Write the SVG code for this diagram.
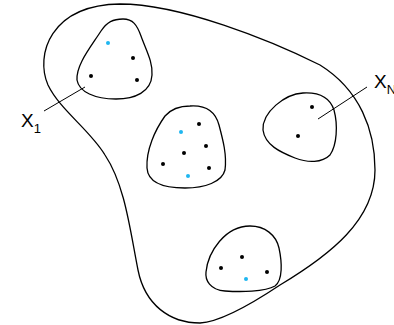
<svg xmlns="http://www.w3.org/2000/svg" width="394" height="325" viewBox="0 0 394 325">
<style>
.c{fill:none;stroke:#000;stroke-width:1.3}
.d{fill:#000}
.b{fill:#1EB6F0}
.l{stroke:#000;stroke-width:1}
.t{font-family:"Liberation Sans",Arial,sans-serif;fill:#000}
</style>
<rect width="394" height="325" fill="#fff"/>
<g id="outer"><path class="c" d="M 120,4 C 180,4 270,40 320,65 C 360,90 375,130 375,170 C 375,220 330,255 280,285 C 250,305 220,322 200,323 C 170,323 145,305 138,270 C 130,230 125,185 105,155 C 90,130 60,110 48,85 C 35,55 50,5 120,4 Z"/></g>
<g id="cluster1">
<path class="c" d="M 123,19 C 133,19 137,25 141,36 C 146,50 153,62 152,75 C 151,92 135,99 116,99 C 95,99 79,92 77,80 C 76,65 90,48 101,31 C 107,22 113,19 123,19 Z"/>
<circle class="b" cx="108" cy="43" r="2"/>
<circle class="d" cx="133" cy="58" r="2"/>
<circle class="d" cx="91" cy="76" r="2"/>
<circle class="d" cx="137" cy="80" r="2"/>
</g>
<g id="cluster2">
<path class="c" d="M 190,106 C 205,105 215,110 219,125 C 223,140 227,155 225,170 C 222,182 205,188 185,188 C 165,188 148,183 147,168 C 146,150 155,130 165,116 C 172,108 180,106 190,106 Z"/>
<circle class="b" cx="181" cy="132" r="2"/>
<circle class="d" cx="199" cy="124" r="2"/>
<circle class="d" cx="206" cy="146" r="2"/>
<circle class="d" cx="184" cy="153" r="2"/>
<circle class="d" cx="163" cy="164" r="2"/>
<circle class="d" cx="209" cy="168" r="2"/>
<circle class="b" cx="188" cy="176" r="2"/>
</g>
<g id="cluster3">
<path class="c" d="M 303,93 C 320,92 330,98 334,110 C 338,125 337,145 330,155 C 322,163 308,163 295,158 C 280,152 265,145 263,130 C 262,112 285,94 303,93 Z"/>
<circle class="d" cx="312" cy="107" r="2"/>
<circle class="d" cx="298" cy="136" r="2"/>
</g>
<g id="cluster4">
<path class="c" d="M 250,226 C 265,226 276,235 279,248 C 282,262 283,280 275,286 C 265,292 240,292 225,291 C 210,290 205,280 206,272 C 208,252 225,226 250,226 Z"/>
<circle class="d" cx="242" cy="257" r="2"/>
<circle class="d" cx="221" cy="268" r="2"/>
<circle class="d" cx="267" cy="272" r="2"/>
<circle class="b" cx="246" cy="279" r="2"/>
</g>
<g id="connectors">
<line class="l" x1="44" y1="111" x2="85" y2="87"/>
<line class="l" x1="318" y1="119" x2="367" y2="87"/>
</g>
<g id="label-x1"><text class="t" x="21" y="127" font-size="19">X<tspan font-size="13" dy="6">1</tspan></text></g>
<g id="label-xn"><text class="t" x="374" y="88" font-size="19">X<tspan font-size="13" dy="6">N</tspan></text></g>
</svg>
